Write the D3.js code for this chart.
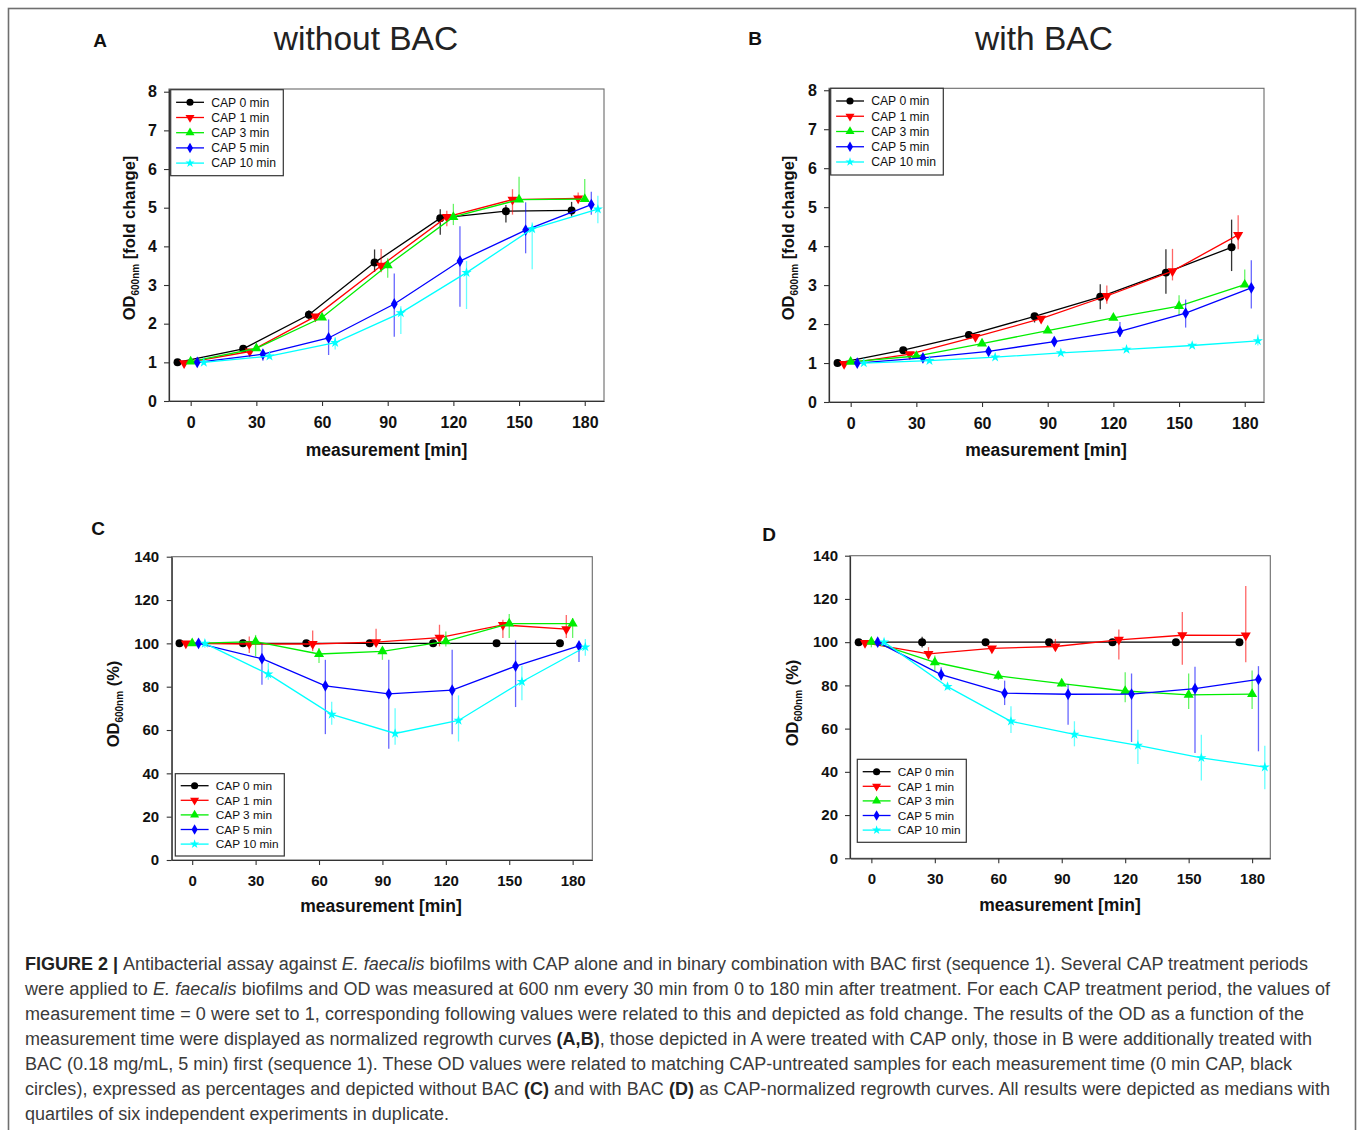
<!DOCTYPE html>
<html><head><meta charset="utf-8">
<script src="https://cdn.jsdelivr.net/npm/d3@7"></script>
<style>body{margin:0;background:#fff}svg{display:block}</style>
</head><body>
<svg id="chart" width="1357" height="1130"></svg>
<script>
// ---------- DATA ----------
const times = [0, 30, 60, 90, 120, 150, 180];
const seriesNames = ["CAP 0 min", "CAP 1 min", "CAP 3 min", "CAP 5 min", "CAP 10 min"];
const seriesColors = ["#000000", "#ff0000", "#00ee00", "#0000ff", "#00ffff"];
const seriesSymbols = ["circle", "triangleDown", "triangleUp", "diamond", "star"];
const timeOffsets = [-6, -3, 0, 3, 6];
const xTickValues = [0, 30, 60, 90, 120, 150, 180];
const yTicksFold = [0, 1, 2, 3, 4, 5, 6, 7, 8];
const yTicksPct = [0, 20, 40, 60, 80, 100, 120, 140];

// Panel A: without BAC, fold change (median, q1, q3)
const A_median = [
  [1.00, 1.35, 2.23, 3.58, 4.73, 4.91, 4.93],
  [0.98, 1.28, 2.19, 3.50, 4.76, 5.21, 5.24],
  [1.02, 1.36, 2.16, 3.51, 4.76, 5.21, 5.22],
  [1.00, 1.21, 1.63, 2.51, 3.62, 4.42, 5.08],
  [1.00, 1.16, 1.51, 2.28, 3.32, 4.45, 4.96]
];
const A_q1 = [
  [1.00, 1.30, 2.10, 3.34, 4.30, 4.62, 4.77],
  [0.97, 1.22, 2.10, 3.33, 4.52, 4.82, 5.14],
  [1.00, 1.30, 2.10, 3.19, 4.55, 5.15, 5.15],
  [0.97, 1.04, 1.19, 1.66, 2.44, 3.82, 4.82],
  [0.98, 1.10, 1.33, 1.73, 2.38, 3.41, 4.60]
];
const A_q3 = [
  [1.00, 1.40, 2.35, 3.92, 4.96, 5.07, 5.15],
  [0.99, 1.32, 2.25, 3.93, 4.92, 5.48, 5.39],
  [1.04, 1.42, 2.22, 3.69, 5.10, 5.80, 5.74],
  [1.02, 1.28, 2.11, 3.30, 4.52, 5.14, 5.41],
  [1.02, 1.22, 1.65, 2.45, 3.62, 4.62, 5.31]
];

// Panel B: with BAC, fold change
const B_median = [
  [1.00, 1.33, 1.72, 2.20, 2.70, 3.32, 3.97],
  [0.98, 1.23, 1.67, 2.14, 2.72, 3.36, 4.29],
  [1.03, 1.18, 1.50, 1.83, 2.16, 2.46, 3.01],
  [1.00, 1.13, 1.30, 1.55, 1.81, 2.28, 2.93],
  [1.00, 1.06, 1.15, 1.26, 1.35, 1.45, 1.57]
];
const B_q1 = [
  [1.00, 1.30, 1.68, 2.04, 2.38, 2.78, 3.36],
  [0.96, 1.19, 1.62, 2.06, 2.52, 3.12, 3.92],
  [1.00, 1.13, 1.44, 1.77, 2.10, 2.22, 2.95],
  [0.98, 1.10, 1.26, 1.48, 1.67, 1.91, 2.40],
  [0.98, 1.04, 1.13, 1.24, 1.33, 1.43, 1.45]
];
const B_q3 = [
  [1.00, 1.37, 1.82, 2.28, 3.02, 3.92, 4.68],
  [1.00, 1.27, 1.72, 2.20, 2.99, 3.93, 4.79],
  [1.06, 1.22, 1.55, 1.90, 2.22, 2.74, 3.40],
  [1.02, 1.16, 1.34, 1.65, 2.05, 2.63, 3.64],
  [1.02, 1.08, 1.17, 1.28, 1.37, 1.47, 1.73]
];

// Panel C: without BAC, % of CAP-untreated
const C_median = [
  [100, 100, 100, 100, 100, 100, 100],
  [100, 99.7, 99.7, 100.6, 102.6, 108.5, 106.6],
  [100, 100.8, 95.1, 96.3, 100.9, 109.1, 109.1],
  [100, 92.9, 80.4, 76.7, 78.4, 89.5, 98.8],
  [100, 85.8, 67.2, 58.4, 64.4, 82.3, 98.3]
];
const C_q1 = [
  [100, 98.5, 100, 100, 100, 100, 100],
  [99, 95.5, 96.3, 99.7, 98.6, 102.5, 102.5],
  [99.5, 94.0, 90.9, 92.4, 98.6, 102.5, 102.5],
  [99, 80.9, 58.1, 51.3, 58.1, 70.6, 91.4],
  [98, 83.2, 62.4, 53.2, 54.7, 73.7, 94.3]
];
const C_q3 = [
  [100, 101.7, 100, 100, 100, 100, 100],
  [101, 103.2, 105.9, 106.8, 108.6, 110.9, 113.1],
  [100.5, 103.9, 97.8, 98.2, 105.5, 113.6, 111.7],
  [101, 99.8, 92.4, 92.4, 97.1, 101.4, 99.7],
  [101.7, 90.9, 73.0, 70.1, 76.0, 89.7, 102.0]
];

// Panel D: with BAC, % of CAP-untreated
const D_median = [
  [100, 100, 100, 100, 100, 100, 100],
  [99.7, 94.6, 97.1, 98.0, 101.1, 103.2, 103.1],
  [100.2, 90.7, 84.4, 80.8, 77.4, 75.6, 76.0],
  [100, 85.0, 76.4, 75.9, 76.0, 78.5, 82.8],
  [100, 79.4, 63.4, 57.3, 52.2, 46.5, 42.2]
];
const D_q1 = [
  [100, 97.5, 100, 100, 100, 100, 100],
  [99.5, 92.0, 96.0, 96.3, 92.0, 89.6, 90.7],
  [97.6, 86.6, 82.5, 79.5, 72.2, 69.1, 69.1],
  [99.5, 82.4, 70.9, 61.8, 53.8, 48.7, 49.5],
  [99.5, 78.1, 58.0, 51.8, 43.6, 36.0, 32.0]
];
const D_q3 = [
  [100, 102.5, 100, 100, 100, 100, 100],
  [100, 97.7, 98.0, 101.5, 105.9, 113.9, 126.0],
  [102.5, 93.8, 86.5, 82.5, 86.1, 85.5, 86.9],
  [100.5, 88.4, 82.2, 80.4, 85.5, 88.6, 88.9],
  [100.5, 81.1, 70.3, 63.4, 59.5, 57.2, 52.1]
];

const captionLines = [
  [["b","FIGURE 2 | "],["n","Antibacterial assay against "],["i","E. faecalis"],["n"," biofilms with CAP alone and in binary combination with BAC first (sequence 1). Several CAP treatment periods"]],
  [["n","were applied to "],["i","E. faecalis"],["n"," biofilms and OD was measured at 600 nm every 30 min from 0 to 180 min after treatment. For each CAP treatment period, the values of"]],
  [["n","measurement time = 0 were set to 1, corresponding following values were related to this and depicted as fold change. The results of the OD as a function of the"]],
  [["n","measurement time were displayed as normalized regrowth curves "],["b","(A,B)"],["n",", those depicted in A were treated with CAP only, those in B were additionally treated with"]],
  [["n","BAC (0.18 mg/mL, 5 min) first (sequence 1). These OD values were related to matching CAP-untreated samples for each measurement time (0 min CAP, black"]],
  [["n","circles), expressed as percentages and depicted without BAC "],["b","(C)"],["n"," and with BAC "],["b","(D)"],["n"," as CAP-normalized regrowth curves. All results were depicted as medians with"]],
  [["n","quartiles of six independent experiments in duplicate."]]
];
const captionWidths = [1283, 1305, 1279, 1287, 1267, 1305, 424];

// ---------- DRAWING ----------
const svg = d3.select("#chart");
const FONT = "'Liberation Sans', Arial, Helvetica, sans-serif";

svg.append("rect").attr("x", 8.5).attr("y", 8.5).attr("width", 1347).attr("height", 1150)
  .attr("fill", "none").attr("stroke", "#6f6f6f").attr("stroke-width", 1.6);

const symbolTypes = {
  circle: d3.symbolCircle, triangleDown: d3.symbolTriangle, triangleUp: d3.symbolTriangle,
  diamond: d3.symbolDiamond, star: d3.symbolStar
};
const symbolSizes = { circle: 50, triangleDown: 44, triangleUp: 44, diamond: 40, star: 32 };
function symbolPath(name, scale = 1) {
  return d3.symbol().type(symbolTypes[name]).size(symbolSizes[name] * scale)();
}
function symbolRot(name) { return name === "triangleDown" ? " rotate(180)" : ""; }

const panels = [
  { med: A_median, q1: A_q1, q3: A_q3, left: 169, right: 604, top: 89, bottom: 401,
    xDomain: [-9.9, 188.8], yDomain: [0, 8.07], yTicks: yTicksFold,
    tickFont: 16, xPad: 11, yPad: 7, xTitle: [386.5, 456], yTitle: [134.5, 238],
    yLabel: ["OD", "600nm", " [fold change]"], yTitleSize: 16.5,
    legend: { x: 170.7, y: 89.7, w: 112.6, h: 86, row0: 102.3, step: 15.2, font: 12.2 } },
  { med: B_median, q1: B_q1, q3: B_q3, left: 829, right: 1264, top: 88.3, bottom: 402,
    xDomain: [-9.9, 188.8], yDomain: [0, 8.05], yTicks: yTicksFold,
    tickFont: 16, xPad: 11, yPad: 7, xTitle: [1046, 456], yTitle: [794, 238],
    yLabel: ["OD", "600nm", " [fold change]"], yTitleSize: 16.5,
    legend: { x: 830.7, y: 88.3, w: 112.6, h: 86.7, row0: 101, step: 15.25, font: 12.2 } },
  { med: C_median, q1: C_q1, q3: C_q3, left: 171.7, right: 592.3, top: 556.7, bottom: 860,
    xDomain: [-9.7, 189.3], yDomain: [0, 140], yTicks: yTicksPct,
    tickFont: 15, xPad: 10, yPad: 7.5, xTitle: [381, 912], yTitle: [119, 704],
    yLabel: ["OD", "600nm", " (%)"], yTitleSize: 16.5,
    legend: { x: 175.3, y: 773.7, w: 109, h: 82.3, row0: 785.7, step: 14.6, font: 11.8 } },
  { med: D_median, q1: D_q1, q3: D_q3, left: 850, right: 1270.3, top: 555.7, bottom: 858.3,
    xDomain: [-10.1, 188.6], yDomain: [0, 140], yTicks: yTicksPct,
    tickFont: 15, xPad: 10.4, yPad: 7, xTitle: [1060, 911], yTitle: [798, 703],
    yLabel: ["OD", "600nm", " (%)"], yTitleSize: 16.5,
    legend: { x: 857.3, y: 759.3, w: 109, h: 83, row0: 771.7, step: 14.6, font: 11.8 } }
];

function drawPanel(p) {
  const x = d3.scaleLinear().domain(p.xDomain).range([p.left, p.right]);
  const y = d3.scaleLinear().domain(p.yDomain).range([p.bottom, p.top]);
  const g = svg.append("g");

  // frame
  g.append("rect").attr("x", p.left).attr("y", p.top)
    .attr("width", p.right - p.left).attr("height", p.bottom - p.top)
    .attr("fill", "none").attr("stroke", "#6a6a6a").attr("stroke-width", 1.1);

  // axes
  const xa = g.append("g").attr("transform", `translate(0,${p.bottom})`)
    .call(d3.axisBottom(x).tickValues(xTickValues).tickSize(5).tickSizeOuter(0).tickPadding(p.xPad));
  const ya = g.append("g").attr("transform", `translate(${p.left},0)`)
    .call(d3.axisLeft(y).tickValues(p.yTicks).tickSize(5).tickSizeOuter(0).tickPadding(p.yPad));
  [xa, ya].forEach(a => {
    a.select(".domain").attr("stroke", "#333").attr("stroke-width", 1.2);
    a.selectAll(".tick line").attr("stroke", "#333").attr("stroke-width", 1.1);
    a.selectAll(".tick text").attr("fill", "#111").style("font-family", FONT)
      .style("font-weight", "bold").style("font-size", p.tickFont + "px");
  });

  // x title
  g.append("text").attr("x", p.xTitle[0]).attr("y", p.xTitle[1])
    .attr("text-anchor", "middle").style("font-family", FONT).style("font-weight", "bold")
    .style("font-size", "17.5px").attr("fill", "#111").text("measurement [min]");

  // y title
  const yt = g.append("text")
    .attr("transform", `translate(${p.yTitle[0]},${p.yTitle[1]}) rotate(-90)`)
    .attr("text-anchor", "middle").style("font-family", FONT).style("font-weight", "bold")
    .style("font-size", p.yTitleSize + "px").attr("fill", "#111");
  yt.append("tspan").text(p.yLabel[0]);
  yt.append("tspan").attr("dy", 4).style("font-size", "10px").text(p.yLabel[1]);
  yt.append("tspan").attr("dy", -4).text(p.yLabel[2]);

  // series
  const line = d3.line().x(d => x(d.t)).y(d => y(d.v));
  seriesNames.forEach((name, si) => {
    const pts = times.map((t, i) => ({ t: t + timeOffsets[si], v: p.med[si][i], lo: p.q1[si][i], hi: p.q3[si][i] }));
    const col = seriesColors[si];
    // error bars
    g.append("g").selectAll("line").data(pts).join("line")
      .attr("x1", d => x(d.t)).attr("x2", d => x(d.t))
      .attr("y1", d => y(d.lo)).attr("y2", d => y(d.hi))
      .attr("stroke", col).attr("stroke-width", 1.3).attr("stroke-opacity", si === 0 ? 0.8 : 0.6);
    g.append("path").datum(pts).attr("d", line).attr("fill", "none")
      .attr("stroke", col).attr("stroke-width", 1.3);
    g.append("g").selectAll("path").data(pts).join("path")
      .attr("d", symbolPath(seriesSymbols[si]))
      .attr("transform", d => `translate(${x(d.t)},${y(d.v)})${symbolRot(seriesSymbols[si])}`)
      .attr("fill", col);
  });

  // legend
  const L = p.legend;
  const lg = g.append("g");
  lg.append("rect").attr("x", L.x).attr("y", L.y).attr("width", L.w).attr("height", L.h)
    .attr("fill", "#fff").attr("stroke", "#333").attr("stroke-width", 1.2);
  seriesNames.forEach((name, si) => {
    const cy = L.row0 + si * L.step;
    lg.append("line").attr("x1", L.x + 5.4).attr("x2", L.x + 33.3).attr("y1", cy).attr("y2", cy)
      .attr("stroke", seriesColors[si]).attr("stroke-width", 1.3);
    lg.append("path").attr("d", symbolPath(seriesSymbols[si], 0.8))
      .attr("transform", `translate(${L.x + 19.3},${cy})${symbolRot(seriesSymbols[si])}`)
      .attr("fill", seriesColors[si]);
    lg.append("text").attr("x", L.x + 40.5).attr("y", cy + 4.3)
      .style("font-family", FONT).style("font-size", L.font + "px").attr("fill", "#111").text(name);
  });
}
panels.forEach(drawPanel);

// panel letters and titles
const letters = [["A", 100, 47], ["B", 755, 45], ["C", 98, 535], ["D", 769, 541]];
letters.forEach(([t, lx, ly]) => svg.append("text").attr("x", lx).attr("y", ly).attr("text-anchor", "middle")
  .style("font-family", FONT).style("font-weight", "bold").style("font-size", "19px").attr("fill", "#111").text(t));
const titles = [["without BAC", 366, 50], ["with BAC", 1044, 50]];
titles.forEach(([t, tx, ty]) => svg.append("text").attr("x", tx).attr("y", ty).attr("text-anchor", "middle")
  .style("font-family", FONT).style("font-size", "33.5px").attr("fill", "#222").text(t));

// caption
const capY0 = 969.5, capStep = 25.15;
captionLines.forEach((segs, li) => {
  const t = svg.append("text").attr("x", 25).attr("y", capY0 + li * capStep)
    .attr("textLength", captionWidths[li]).attr("lengthAdjust", "spacing")
    .style("font-family", FONT).style("font-size", "18px").attr("fill", "#3a3a3a");
  segs.forEach(([k, s]) => {
    const ts = t.append("tspan").text(s);
    if (k === "b") ts.style("font-weight", "bold").attr("fill", "#222");
    if (k === "i") ts.style("font-style", "italic");
  });
});
</script>
</body></html>
